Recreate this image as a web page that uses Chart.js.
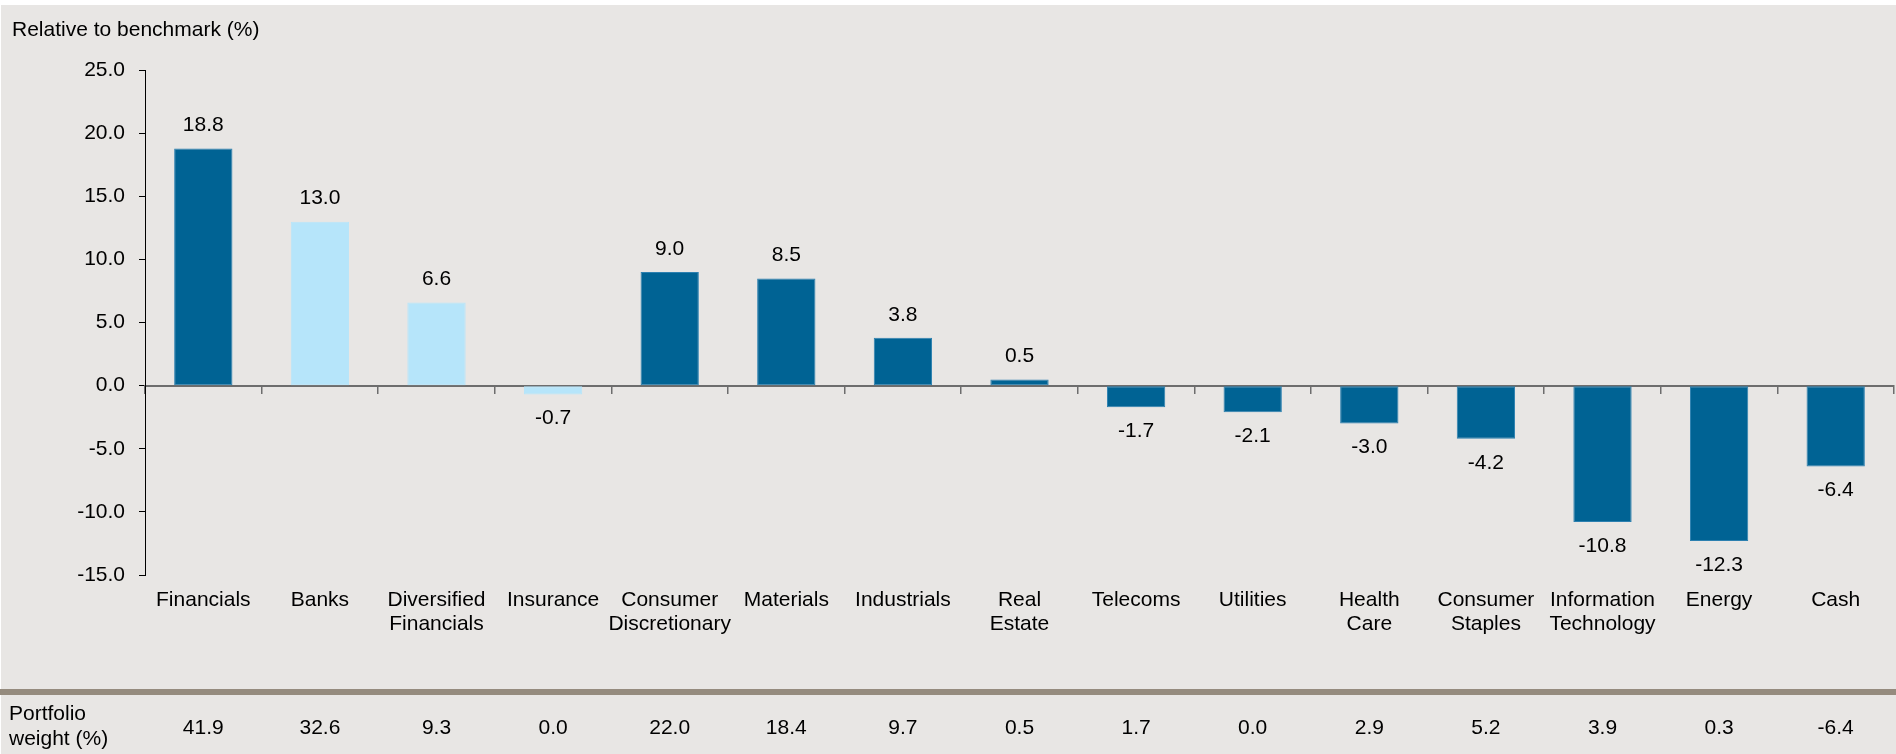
<!DOCTYPE html>
<html>
<head>
<meta charset="utf-8">
<title>Sector positioning</title>
<script src="https://cdn.jsdelivr.net/npm/chart.js@4/dist/chart.umd.min.js"></script>
<style>
    html, body { margin: 0; padding: 0; background: #ffffff; }
    #wrap { width: 1896px; height: 754px; }
</style>
</head>
<body>
<div id="wrap"><canvas id="sector-chart" width="1896" height="754"></canvas></div>
<script>
// Sector categories (multi-line labels are split into arrays)
const sectors = [
    'Financials', 'Banks', ['Diversified', 'Financials'], 'Insurance',
    ['Consumer', 'Discretionary'], 'Materials', 'Industrials', ['Real', 'Estate'],
    'Telecoms', 'Utilities', ['Health', 'Care'], ['Consumer', 'Staples'],
    ['Information', 'Technology'], 'Energy', 'Cash'
];

// Active weight relative to benchmark (%)
const relativeWeights = [18.8, 13.0, 6.6, -0.7, 9.0, 8.5, 3.8, 0.5, -1.7, -2.1, -3.0, -4.2, -10.8, -12.3, -6.4];

// Absolute portfolio weight (%)
const portfolioWeights = [41.9, 32.6, 9.3, 0.0, 22.0, 18.4, 9.7, 0.5, 1.7, 0.0, 2.9, 5.2, 3.9, 0.3, -6.4];

// Financials sub-industries, shown in the lighter shade
const subIndustries = [1, 2, 3];

// Y axis range and step
const yMin = -15;
const yMax = 25;
const yStep = 5;

const FONT = "'Liberation Sans', Arial, Helvetica, sans-serif";
const FONT_SIZE = 21;
const DARK_BLUE = '#006394';
const LIGHT_BLUE = '#b6e5fa';

const barColors = relativeWeights.map((v, i) => subIndustries.includes(i) ? LIGHT_BLUE : DARK_BLUE);
const barBorders = relativeWeights.map((v, i) => subIndustries.includes(i) ? LIGHT_BLUE : '#2c80b0');

/**
 * Grey panel behind the whole chart
 */
const panelBackground = {
    id: 'panelBackground',
    beforeDraw(chart) {
        const ctx = chart.ctx;
        ctx.save();
        ctx.fillStyle = '#e8e6e4';
        ctx.fillRect(1, 5, chart.width - 1, chart.height - 5);
        ctx.restore();
    }
};

/**
 * Value labels above positive bars, below negative ones
 */
const valueLabels = {
    id: 'valueLabels',
    afterDatasetsDraw(chart) {
        const ctx = chart.ctx;
        const meta = chart.getDatasetMeta(0);
        ctx.save();
        ctx.font = FONT_SIZE + 'px ' + FONT;
        ctx.fillStyle = '#000000';
        ctx.textAlign = 'center';
        ctx.textBaseline = 'middle';
        meta.data.forEach((bar, i) => {
            const v = relativeWeights[i];
            const y = v >= 0 ? bar.y - 23 : bar.y + 24;
            ctx.fillText(v.toFixed(1), bar.x, y);
        });
        ctx.restore();
    }
};

/**
 * Portfolio weight row under the chart
 */
const weightTable = {
    id: 'weightTable',
    afterDraw(chart) {
        const ctx = chart.ctx;
        const xScale = chart.scales.x;
        const bandTop = chart.height - 65;
        ctx.save();
        ctx.fillStyle = '#958b7e';
        ctx.fillRect(0, bandTop, chart.width, 6);

        ctx.font = FONT_SIZE + 'px ' + FONT;
        ctx.fillStyle = '#000000';
        ctx.textBaseline = 'middle';
        ctx.textAlign = 'left';
        ctx.fillText('Portfolio', 9, bandTop + 25);
        ctx.fillText('weight (%)', 9, bandTop + 50);

        ctx.textAlign = 'center';
        portfolioWeights.forEach((w, i) => {
            ctx.fillText(w.toFixed(1), xScale.getPixelForValue(i), bandTop + 39);
        });
        ctx.restore();
    }
};

const ctx = document.getElementById('sector-chart');

new Chart(ctx, {
    type: 'bar',
    data: {
        labels: sectors,
        datasets: [{
            label: 'Relative to benchmark (%)',
            data: relativeWeights,
            backgroundColor: barColors,
            borderColor: barBorders,
            borderWidth: 1,
            borderSkipped: false,
            categoryPercentage: 1.0,
            barPercentage: 0.5,
            xAxisID: 'x',
            yAxisID: 'y'
        }]
    },
    options: {
        responsive: false,
        devicePixelRatio: 1,
        animation: false,
        layout: {
            padding: { left: 12, right: 2, top: 0, bottom: 104 }
        },
        plugins: {
            legend: { display: false },
            tooltip: { enabled: false },
            title: {
                display: true,
                text: 'Relative to benchmark (%)',
                align: 'start',
                color: '#000000',
                font: { family: FONT, size: FONT_SIZE, weight: 'normal', lineHeight: 1.2 },
                padding: { top: 18, bottom: 27 }
            }
        },
        scales: {
            x: {
                position: 'bottom',
                grid: { display: false, drawTicks: false },
                border: { display: false },
                ticks: {
                    color: '#000000',
                    font: { family: FONT, size: FONT_SIZE, lineHeight: 1.15 },
                    padding: 13,
                    autoSkip: false,
                    maxRotation: 0,
                    minRotation: 0
                },
                afterFit(scale) {
                    scale.height = 75;
                }
            },
            // zero line with tick marks between categories
            x0: {
                axis: 'x',
                type: 'category',
                position: { y: 0 },
                z: 1,
                grid: {
                    drawOnChartArea: false,
                    drawTicks: true,
                    tickLength: 7,
                    color: '#6d6d6d',
                    lineWidth: 1.5,
                    offset: true
                },
                border: { display: true, color: '#6d6d6d', width: 2 },
                ticks: { display: false }
            },
            y: {
                min: yMin,
                max: yMax,
                grid: {
                    drawOnChartArea: false,
                    drawTicks: true,
                    tickLength: 6,
                    color: '#000000'
                },
                border: { display: true, color: '#000000', width: 1 },
                ticks: {
                    stepSize: yStep,
                    color: '#000000',
                    font: { family: FONT, size: FONT_SIZE },
                    padding: 14,
                    callback: value => value.toFixed(1)
                },
                afterFit(scale) {
                    scale.width = 133;
                }
            }
        }
    },
    plugins: [panelBackground, valueLabels, weightTable]
});
</script>
</body>
</html>
